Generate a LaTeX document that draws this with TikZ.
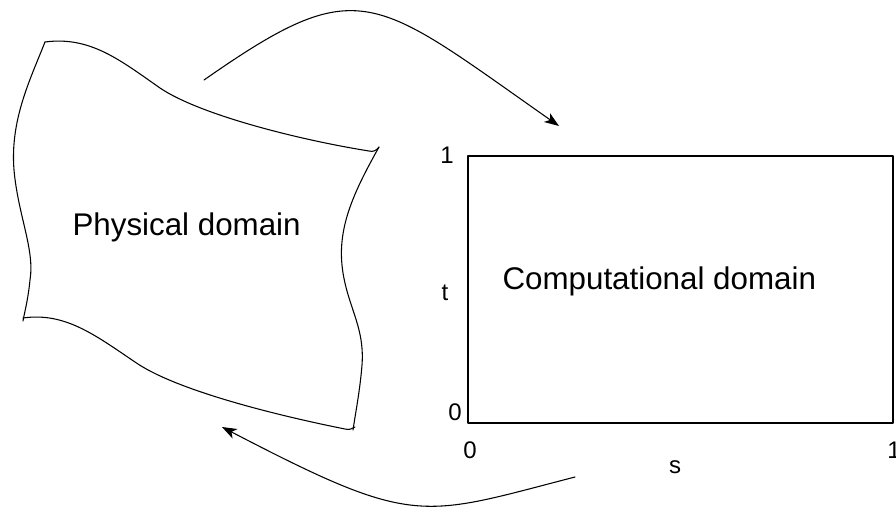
\documentclass[tikz,border=0pt]{standalone}
\usepackage{fontspec}
\setmainfont{Liberation Sans}
\usetikzlibrary{arrows.meta}
\begin{document}
\begin{tikzpicture}[x=0.75pt,y=-0.75pt, line width=0.8pt, line cap=round, line join=round,
  lbl/.style={font=\fontsize{18}{20}\selectfont, inner sep=0pt, anchor=base},
  big/.style={font=\fontsize{23.5}{27}\selectfont, inner sep=0pt, anchor=base west},
  maparrow/.style={-{Stealth[length=11pt,width=8pt,inset=3pt]}}]
\useasboundingbox (0,0) rectangle (896,511);
% physical domain outline
\draw (45,42) .. controls (90,36) and (120,60) .. (160,88)
      .. controls (200,115) and (300,140) .. (369,151)
      .. controls (373,152) and (376,151) .. (379,147);
\draw (379,147) .. controls (355,190) and (338,225) .. (342,265)
      .. controls (346,305) and (365,325) .. (362,365)
      .. controls (360,390) and (356,410) .. (353,430);
\draw (23,318) .. controls (65,312) and (95,335) .. (135,362)
      .. controls (175,390) and (275,415) .. (345,429)
      .. controls (349,430) and (352,429) .. (355,427);
\draw (45,42) .. controls (30,80) and (10,120) .. (14,170)
      .. controls (18,215) and (35,250) .. (30,280)
      .. controls (28,300) and (25,310) .. (23,321);
\node[big] (phys) at (72,235) {Physical domain};
% computational domain
\draw (468,156) rectangle (893,423);
\coordinate (compsw) at (468,423);
\node[big] (comp) at (502,289) {Computational domain};
\node[lbl] (t1) at (447,163) {1};
\node[lbl] (tl) at (445,300) {t};
\node[lbl] (t0) at (455,420) {0};
\node[lbl] (s0) at (470,458) {0};
\node[lbl] (s1) at (894,458) {1};
\node[lbl] (sl) at (675,473) {s};
% mapping arrows
\coordinate (fwdstart) at (204,80);
\coordinate (fwdend) at (559,126);
\coordinate (bckstart) at (575,477);
\coordinate (bckend) at (222,427);
\draw[maparrow] (fwdstart) .. controls (360,-29) and (372,-5) .. (fwdend);
\draw[maparrow] (bckstart) .. controls (420,517) and (416,528) .. (bckend);
\end{tikzpicture}
\end{document}
